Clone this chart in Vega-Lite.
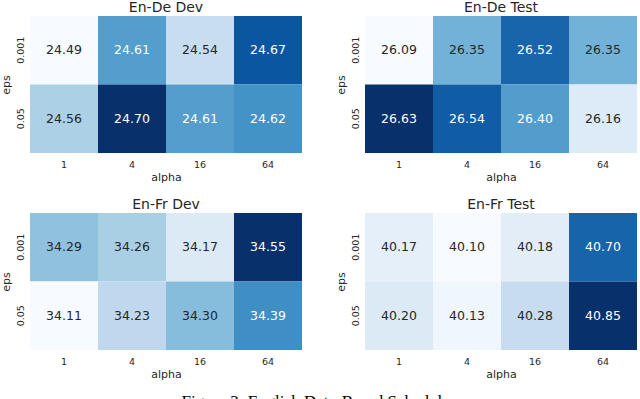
{
  "$schema": "https://vega.github.io/schema/vega-lite/v6.json",
  "padding": {"left": 0, "top": 1, "right": 0, "bottom": 0},
  "background": "white",
  "data": {"values": [
    {"panel": "En-De Dev", "eps": "0.001", "alpha": "1", "value": 24.49},
    {"panel": "En-De Dev", "eps": "0.001", "alpha": "4", "value": 24.61},
    {"panel": "En-De Dev", "eps": "0.001", "alpha": "16", "value": 24.54},
    {"panel": "En-De Dev", "eps": "0.001", "alpha": "64", "value": 24.67},
    {"panel": "En-De Dev", "eps": "0.05", "alpha": "1", "value": 24.56},
    {"panel": "En-De Dev", "eps": "0.05", "alpha": "4", "value": 24.70},
    {"panel": "En-De Dev", "eps": "0.05", "alpha": "16", "value": 24.61},
    {"panel": "En-De Dev", "eps": "0.05", "alpha": "64", "value": 24.62},
    {"panel": "En-De Test", "eps": "0.001", "alpha": "1", "value": 26.09},
    {"panel": "En-De Test", "eps": "0.001", "alpha": "4", "value": 26.35},
    {"panel": "En-De Test", "eps": "0.001", "alpha": "16", "value": 26.52},
    {"panel": "En-De Test", "eps": "0.001", "alpha": "64", "value": 26.35},
    {"panel": "En-De Test", "eps": "0.05", "alpha": "1", "value": 26.63},
    {"panel": "En-De Test", "eps": "0.05", "alpha": "4", "value": 26.54},
    {"panel": "En-De Test", "eps": "0.05", "alpha": "16", "value": 26.40},
    {"panel": "En-De Test", "eps": "0.05", "alpha": "64", "value": 26.16},
    {"panel": "En-Fr Dev", "eps": "0.001", "alpha": "1", "value": 34.29},
    {"panel": "En-Fr Dev", "eps": "0.001", "alpha": "4", "value": 34.26},
    {"panel": "En-Fr Dev", "eps": "0.001", "alpha": "16", "value": 34.17},
    {"panel": "En-Fr Dev", "eps": "0.001", "alpha": "64", "value": 34.55},
    {"panel": "En-Fr Dev", "eps": "0.05", "alpha": "1", "value": 34.11},
    {"panel": "En-Fr Dev", "eps": "0.05", "alpha": "4", "value": 34.23},
    {"panel": "En-Fr Dev", "eps": "0.05", "alpha": "16", "value": 34.30},
    {"panel": "En-Fr Dev", "eps": "0.05", "alpha": "64", "value": 34.39},
    {"panel": "En-Fr Test", "eps": "0.001", "alpha": "1", "value": 40.17},
    {"panel": "En-Fr Test", "eps": "0.001", "alpha": "4", "value": 40.10},
    {"panel": "En-Fr Test", "eps": "0.001", "alpha": "16", "value": 40.18},
    {"panel": "En-Fr Test", "eps": "0.001", "alpha": "64", "value": 40.70},
    {"panel": "En-Fr Test", "eps": "0.05", "alpha": "1", "value": 40.20},
    {"panel": "En-Fr Test", "eps": "0.05", "alpha": "4", "value": 40.13},
    {"panel": "En-Fr Test", "eps": "0.05", "alpha": "16", "value": 40.28},
    {"panel": "En-Fr Test", "eps": "0.05", "alpha": "64", "value": 40.85}
  ]},
  "transform": [
    {"joinaggregate": [{"op": "min", "field": "value", "as": "vmin"}, {"op": "max", "field": "value", "as": "vmax"}], "groupby": ["panel"]}
  ],
  "facet": {
    "field": "panel",
    "type": "nominal",
    "sort": ["En-De Dev", "En-De Test", "En-Fr Dev", "En-Fr Test"],
    "header": {"title": null, "labelFontSize": 14, "labelFont": "DejaVu Sans", "labelColor": "#262626", "labelPadding": 1}
  },
  "columns": 2,
  "spacing": {"column": 33, "row": 15},
  "spec": {
    "width": 272,
    "height": 137,
    "layer": [
      {
        "mark": {"type": "rect"},
        "encoding": {
          "x": {"field": "alpha", "type": "ordinal", "sort": ["1", "4", "16", "64"], "title": "alpha", "axis": {"labelAngle": 0}},
          "y": {"field": "eps", "type": "ordinal", "sort": ["0.001", "0.05"], "title": "eps", "axis": {"labelAngle": 270}},
          "color": {
            "field": "value", "type": "quantitative",
            "scale": {"zero": false, "nice": false, "range": ["#f7fbff", "#deebf7", "#c6dbef", "#9ecae1", "#6baed6", "#4292c6", "#2171b5", "#08519c", "#08306b"]},
            "legend": null
          }
        }
      },
      {
        "mark": {"type": "text", "fontSize": 12.5, "font": "DejaVu Sans"},
        "encoding": {
          "x": {"field": "alpha", "type": "ordinal", "sort": ["1", "4", "16", "64"]},
          "y": {"field": "eps", "type": "ordinal", "sort": ["0.001", "0.05"]},
          "text": {"field": "value", "type": "quantitative", "format": ".2f"},
          "color": {
            "condition": {"test": "(datum.value - datum.vmin) / (datum.vmax - datum.vmin) > 0.5", "value": "#ffffff"},
            "value": "#262626"
          }
        }
      }
    ]
  },
  "resolve": {"scale": {"color": "independent", "x": "independent", "y": "independent"}, "axis": {"x": "independent", "y": "independent"}},
  "title": {"text": "Figure 3: English Data-Based Scheduler", "orient": "bottom", "anchor": "middle", "font": "Liberation Serif", "fontSize": 17, "fontWeight": "normal", "color": "#000000", "offset": 14},
  "config": {
    "view": {"stroke": null},
    "scale": {"bandPaddingInner": 0, "bandPaddingOuter": 0},
    "axis": {
      "domain": false, "ticks": false, "grid": false,
      "labelFont": "DejaVu Sans", "labelFontSize": 9.5, "labelColor": "#262626",
      "titleFont": "DejaVu Sans", "titleFontSize": 11, "titleFontWeight": "normal", "titleColor": "#262626"
    },
    "axisX": {"labelPadding": 6, "titlePadding": 3},
    "axisY": {"labelPadding": 5, "titlePadding": 4}
  }
}
